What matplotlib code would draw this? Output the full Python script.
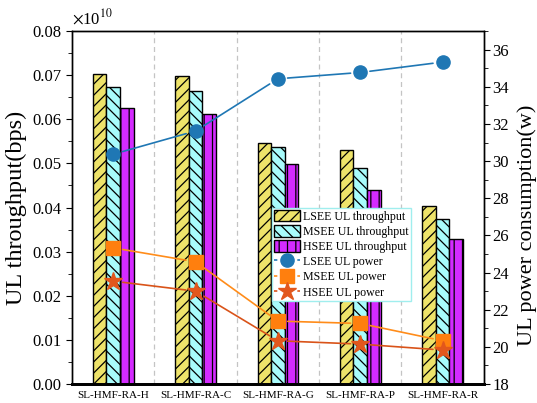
import numpy as np
import matplotlib
matplotlib.use('Agg')
import matplotlib.pyplot as plt
from matplotlib.lines import Line2D
from matplotlib.patches import Patch
from matplotlib.ticker import MultipleLocator, FormatStrFormatter

plt.rcParams['font.family'] = ['Liberation Serif', 'DejaVu Serif']
plt.rcParams['mathtext.fontset'] = 'stix'
plt.rcParams['hatch.linewidth'] = 0.9

# Schemes on the x axis
schemes = ['SL-HMF-RA-H', 'SL-HMF-RA-C', 'SL-HMF-RA-G', 'SL-HMF-RA-P', 'SL-HMF-RA-R']

# UL throughput (bps)
lsee_tp = [7.03e8, 6.99e8, 5.46e8, 5.30e8, 4.03e8]
msee_tp = [6.74e8, 6.64e8, 5.37e8, 4.90e8, 3.74e8]
hsee_tp = [6.25e8, 6.11e8, 4.99e8, 4.40e8, 3.29e8]

# UL power consumption (w)
lsee_pw = [30.37, 31.62, 34.43, 34.77, 35.33]
msee_pw = [25.33, 24.58, 21.39, 21.26, 20.33]
hsee_pw = [23.54, 23.00, 20.33, 20.15, 19.83]

scale = 1e10

fig = plt.figure(figsize=(5.37, 4.03), dpi=100)
ax = fig.add_axes([0.134, 0.047, 0.767, 0.876])
ax2 = ax.twinx()

x = np.arange(len(schemes))
w = 0.165
bar_specs = [
    (lsee_tp, -w, '#eee36a', '///', 'LSEE UL throughput'),
    (msee_tp, 0.0, '#a8fcfc', '\\\\\\', 'MSEE UL throughput'),
    (hsee_tp, w, '#d42bff', '||', 'HSEE UL throughput'),
]
for vals, off, col, hatch, lab in bar_specs:
    ax.bar(x + off, np.array(vals) / scale, width=w, color=col, hatch=hatch,
           edgecolor='black', linewidth=1.0, label=lab, zorder=2)

# dashed separators between groups
for s in x[:-1] + 0.5:
    ax.axvline(s, color='#c4c4c4', lw=0.9, ls=(0, (4, 3)), zorder=0)

ax.set_xlim(-0.5, len(schemes) - 0.5)
ax.set_ylim(0, 0.08)
ax.yaxis.set_major_locator(MultipleLocator(0.01))
ax.yaxis.set_minor_locator(MultipleLocator(0.005))
ax.yaxis.set_major_formatter(FormatStrFormatter('%.2f'))
ax.set_xticks(x)
ax.set_xticklabels(schemes, fontsize=8)
ax.tick_params(axis='x', length=0, pad=5)
ax.tick_params(axis='y', which='major', direction='out', length=4, labelsize=12)
ax.tick_params(axis='y', which='minor', direction='out', length=3)
ax.set_ylabel('UL throughput(bps)', fontsize=17.5, labelpad=4)
ax.text(0.0, 1.008, r'$\times$10$^{10}$', transform=ax.transAxes,
        ha='left', va='bottom', fontsize=12)

# power lines, segments leave a small gap around each marker
line_specs = [
    (lsee_pw, '#1f77b4', '#1f77b4', 'o', 9.5, 'LSEE UL power'),
    (msee_pw, '#ff8c1a', '#ff7f0e', 's', 9.5, 'MSEE UL power'),
    (hsee_pw, '#d95319', '#e2571c', '*', 13.5, 'HSEE UL power'),
]
handles_pw = []
for vals, lc, mc, mk, ms, lab in line_specs:
    for i in range(len(vals) - 1):
        ax2.annotate('', xy=(x[i + 1], vals[i + 1]), xytext=(x[i], vals[i]),
                     arrowprops=dict(arrowstyle='-', color=lc, lw=1.2,
                                     shrinkA=7, shrinkB=7))
    ax2.plot(x, vals, ls='none', marker=mk, ms=ms, color=mc,
             markeredgecolor=mc, zorder=3)
    handles_pw.append(Line2D([], [], color=lc, lw=1.2, dashes=(2, 12),
                             marker=mk, ms=ms, markerfacecolor=mc,
                             markeredgecolor=mc, label=lab))

ax2.set_ylim(18, 37)
ax2.yaxis.set_major_locator(MultipleLocator(2))
ax2.yaxis.set_minor_locator(MultipleLocator(1))
ax2.tick_params(axis='y', which='major', direction='out', length=4, pad=2,
                labelsize=12)
ax2.tick_params(axis='y', which='minor', direction='out', length=3)
ax2.set_ylabel('UL power consumption(w)', fontsize=16)
ax2.yaxis.set_label_coords(1.080, 0.45)

for a in (ax, ax2):
    for sp in a.spines.values():
        sp.set_linewidth(1.0)
    a.spines['bottom'].set_linewidth(2.0)

handles_tp = [Patch(facecolor=c, hatch=h, edgecolor='black', label=l)
              for _, _, c, h, l in bar_specs]
leg = ax2.legend(handles=handles_tp + handles_pw, loc='upper left',
                 bbox_to_anchor=(0.485, 0.5), borderaxespad=0, fontsize=8.6,
                 frameon=True, fancybox=False, framealpha=1,
                 edgecolor='#a0eeee', handlelength=2.2, handleheight=1.1,
                 handletextpad=0.2, labelspacing=0.2, borderpad=0.2)
leg.get_frame().set_linewidth(1.0)

fig.savefig('out.png', dpi=100)
